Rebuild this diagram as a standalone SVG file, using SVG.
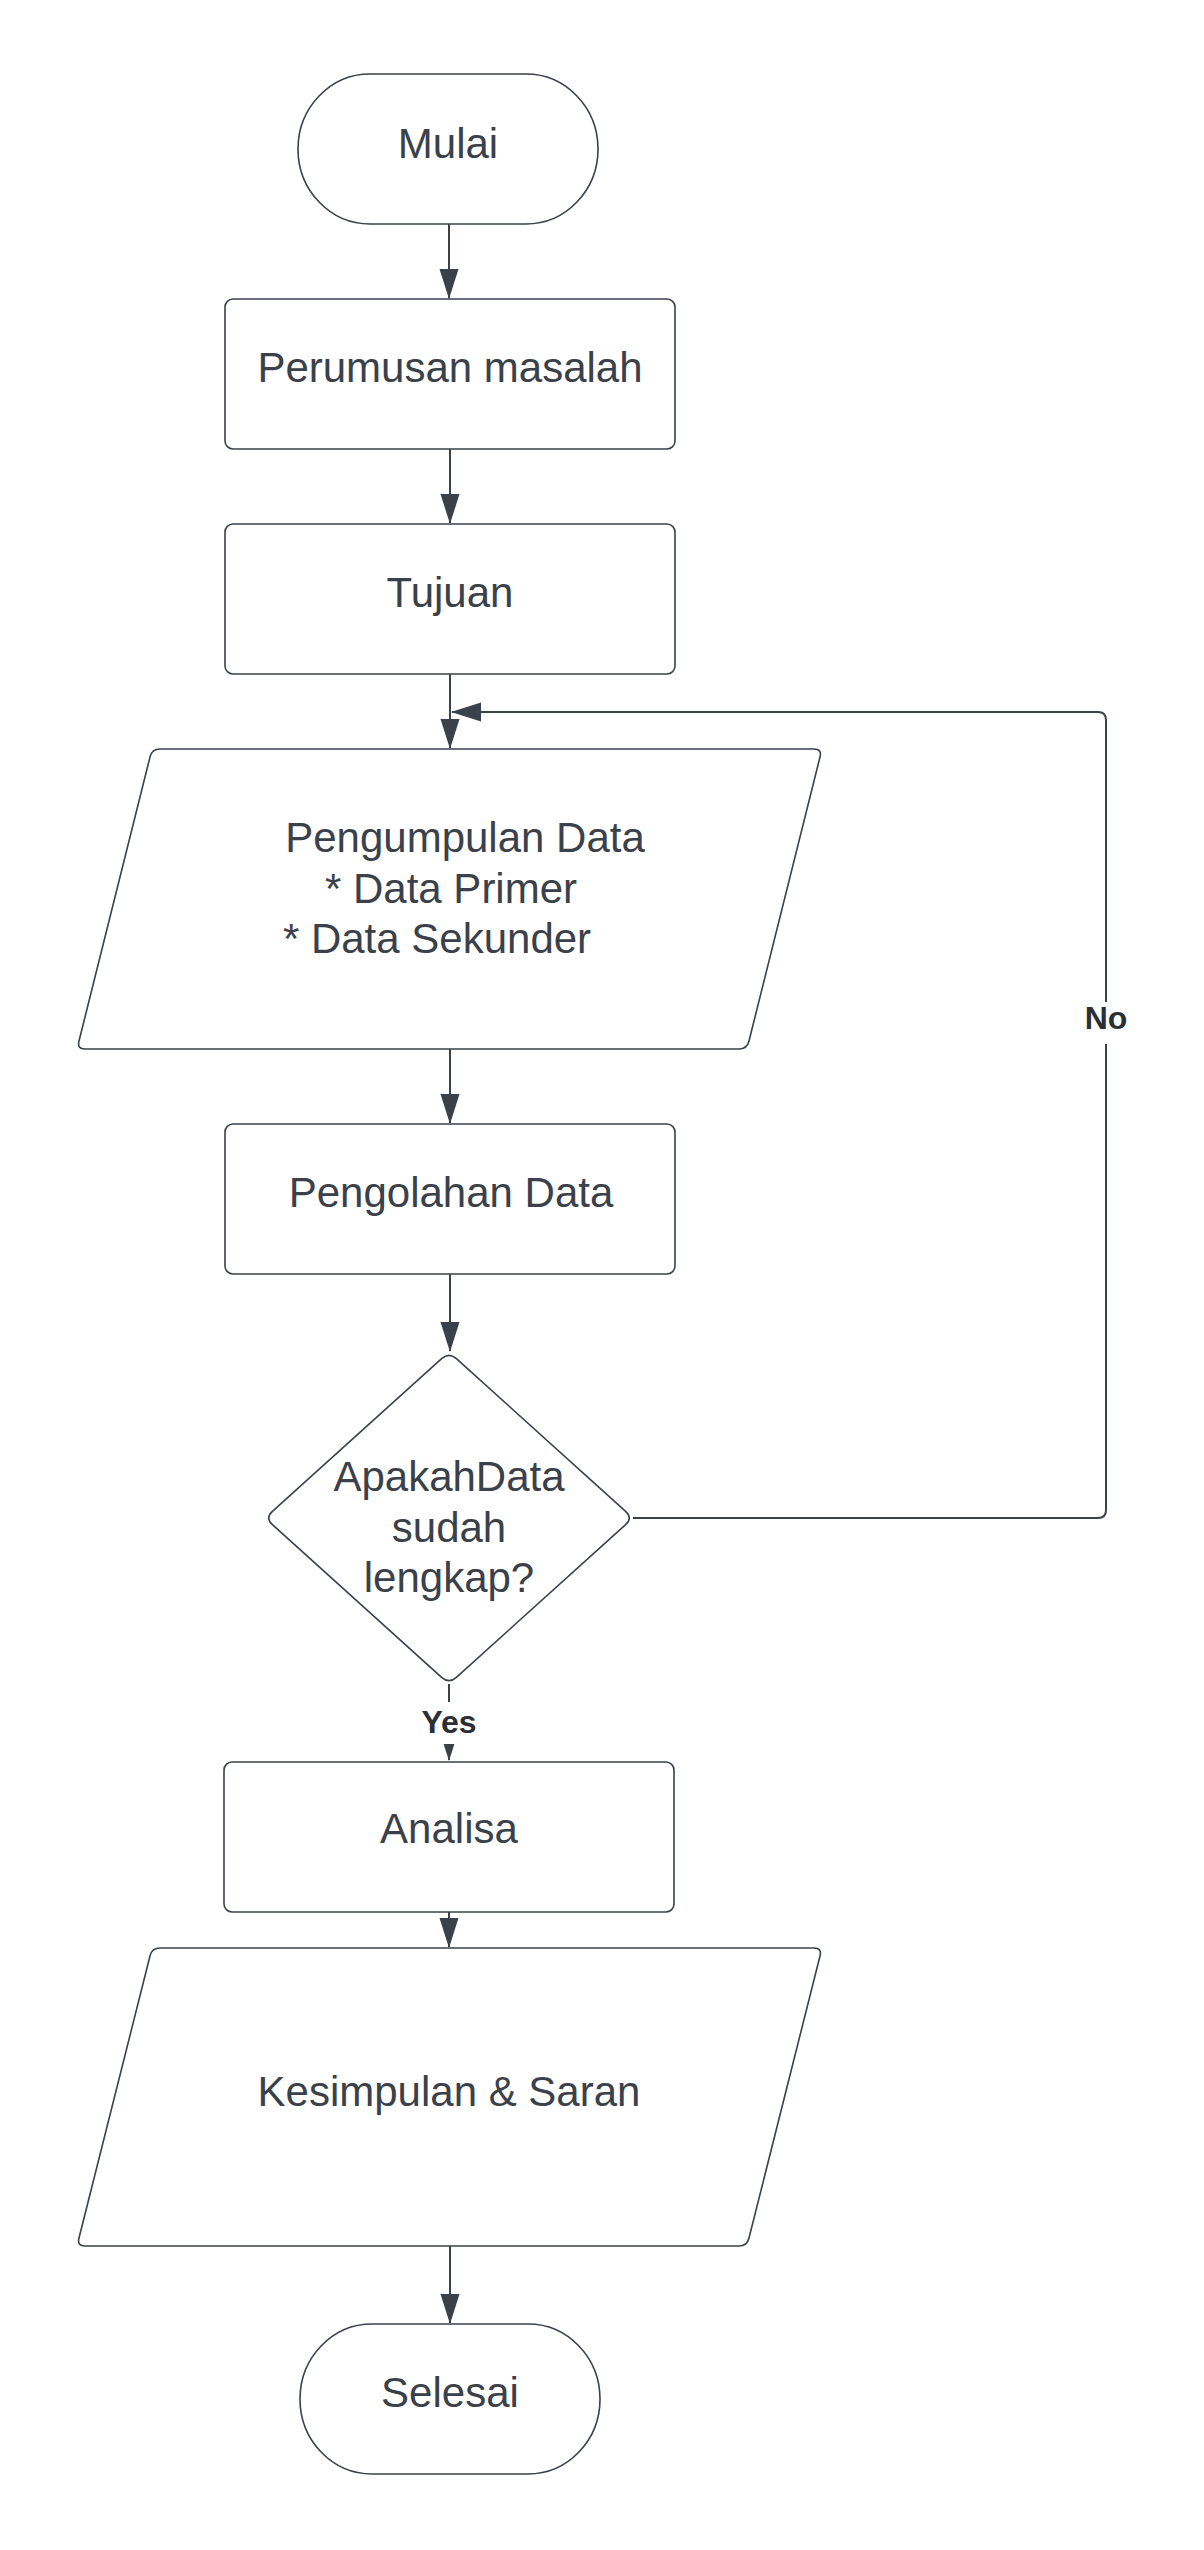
<svg xmlns="http://www.w3.org/2000/svg" width="1204" height="2550" viewBox="0 0 1204 2550">
  <style>
    .shape { fill: #ffffff; stroke: #3a414a; stroke-width: 1.6; }
    .txt { font-family: "Liberation Sans", Arial, sans-serif; font-size: 42px; fill: #3a414a; text-anchor: middle; }
    .conn { fill: none; stroke: #3a414a; stroke-width: 2; }
    .lbl { font-family: "Liberation Sans", Arial, sans-serif; font-size: 32px; font-weight: bold; fill: #2b2f36; text-anchor: middle; }
    .lblbg { fill: #ffffff; stroke: none; }
  </style>
  <defs>
    <marker id="arrow" markerUnits="userSpaceOnUse" markerWidth="30" markerHeight="20" viewBox="0 0 30 20" refX="29" refY="10" orient="auto">
      <path d="M0,0.5 L30,10 L0,19.5 Z" fill="#3a414a"/>
    </marker>
  </defs>
  <rect width="1204" height="2550" fill="#ffffff"/>

  <g id="connectors">
    <path class="conn" d="M449,224 L449,298" marker-end="url(#arrow)"/>
    <path class="conn" d="M450,449 L450,523" marker-end="url(#arrow)"/>
    <path class="conn" d="M450,674 L450,748" marker-end="url(#arrow)"/>
    <path class="conn" d="M450,1049 L450,1123" marker-end="url(#arrow)"/>
    <path class="conn" d="M450,1274 L450,1351" marker-end="url(#arrow)"/>
    <path class="conn" d="M449,1684 L449,1760" marker-end="url(#arrow)"/>
    <path class="conn" d="M449,1912 L449,1947" marker-end="url(#arrow)"/>
    <path class="conn" d="M450,2246 L450,2323" marker-end="url(#arrow)"/>
    <path class="conn" d="M633,1518 L1098,1518 Q1106,1518 1106,1510 L1106,720 Q1106,712 1098,712 L452,712" marker-end="url(#arrow)"/>
    <g id="label-no">
      <rect class="lblbg" x="1082" y="1002" width="48" height="42"/>
      <text class="lbl" x="1106" y="1029">No</text>
    </g>
    <g id="label-yes">
      <rect class="lblbg" x="418" y="1702" width="62" height="42"/>
      <text class="lbl" x="449" y="1733">Yes</text>
    </g>
  </g>

  <g id="mulai">
    <rect class="shape" x="298" y="74" width="300" height="150" rx="72" ry="75"/>
    <text class="txt" x="448" y="158">Mulai</text>
  </g>

  <g id="perumusan">
    <rect class="shape" x="225" y="299" width="450" height="150" rx="8" ry="8"/>
    <text class="txt" x="450" y="382">Perumusan masalah</text>
  </g>

  <g id="tujuan">
    <rect class="shape" x="225" y="524" width="450" height="150" rx="8" ry="8"/>
    <text class="txt" x="450" y="607">Tujuan</text>
  </g>

  <g id="pengumpulan">
    <path class="shape" d="M160,749 L814,749 Q822,749 820.06,756.76 L748.94,1041.24 Q747,1049 739,1049 L85,1049 Q77,1049 78.94,1041.24 L150.06,756.76 Q152,749 160,749 Z"/>
    <text class="txt" x="465" y="852">Pengumpulan Data</text>
    <text class="txt" x="451" y="903">* Data Primer</text>
    <text class="txt" x="437" y="953">* Data Sekunder</text>
  </g>

  <g id="pengolahan">
    <rect class="shape" x="225" y="1124" width="450" height="150" rx="8" ry="8"/>
    <text class="txt" x="451" y="1207">Pengolahan Data</text>
  </g>

  <g id="keputusan">
    <path class="shape" d="M456.4,1358.7 L625.6,1511.3 Q633,1518 625.6,1524.7 L456.4,1677.3 Q449,1684 441.6,1677.3 L272.4,1524.7 Q265,1518 272.4,1511.3 L441.6,1358.7 Q449,1352 456.4,1358.7 Z"/>
    <text class="txt" x="449" y="1491">ApakahData</text>
    <text class="txt" x="449" y="1542">sudah</text>
    <text class="txt" x="449" y="1592">lengkap?</text>
  </g>

  <g id="analisa">
    <rect class="shape" x="224" y="1762" width="450" height="150" rx="8" ry="8"/>
    <text class="txt" x="449" y="1843">Analisa</text>
  </g>

  <g id="kesimpulan">
    <path class="shape" d="M160,1948 L814,1948 Q822,1948 820.06,1955.76 L748.94,2238.24 Q747,2246 739,2246 L85,2246 Q77,2246 78.94,2238.24 L150.06,1955.76 Q152,1948 160,1948 Z"/>
    <text class="txt" x="449" y="2106">Kesimpulan &amp; Saran</text>
  </g>

  <g id="selesai">
    <rect class="shape" x="300" y="2324" width="300" height="150" rx="72" ry="75"/>
    <text class="txt" x="450" y="2407">Selesai</text>
  </g>
</svg>
